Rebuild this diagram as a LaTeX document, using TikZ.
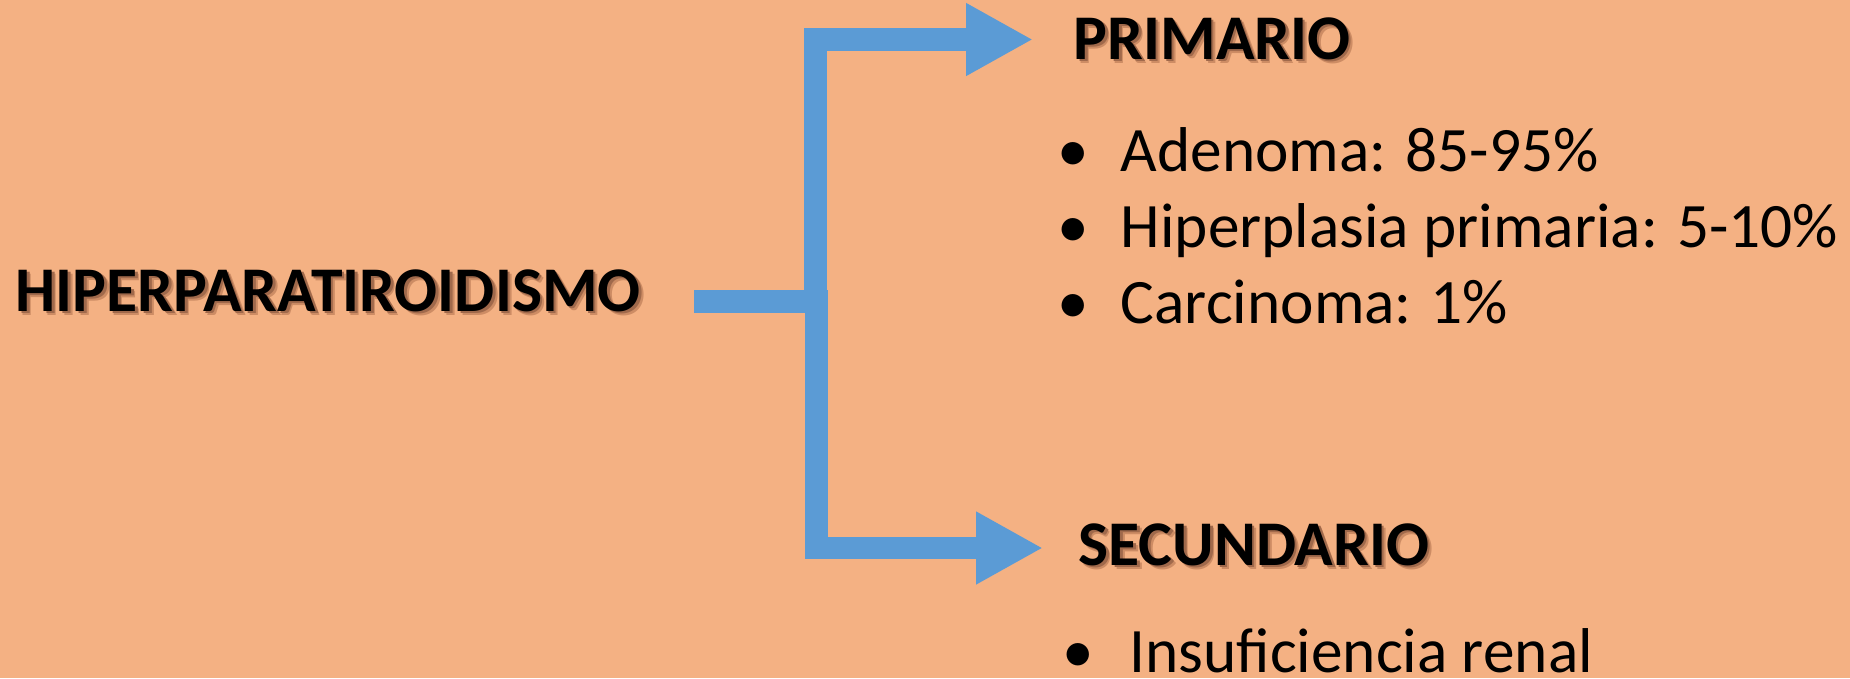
\documentclass[tikz,border=0pt]{standalone}
\usepackage{fontspec}
\setmainfont{Carlito}
\usetikzlibrary{arrows.meta}
\definecolor{slidebg}{HTML}{F4B183}
\definecolor{arrowblue}{HTML}{5B9BD5}
\definecolor{shadowlight}{RGB}{205,140,100}
\definecolor{shadowdark}{RGB}{160,105,75}
\newcommand{\shadowed}[1]{%
    \makebox[0pt][l]{\hspace{1.2pt}\raisebox{-1.2pt}{\color{shadowlight}#1}}%
    \makebox[0pt][l]{\hspace{0.7pt}\raisebox{-0.7pt}{\color{shadowdark}#1}}#1}

\begin{document}
\begin{tikzpicture}[x=0.01cm,y=-0.01cm]
    \tikzstyle{title node}=[inner sep=0,anchor=base west,font=\bfseries\fontsize{18.1}{22}\selectfont]
    \tikzstyle{item node}=[inner sep=0,anchor=base west,font=\fontsize{18}{21.7}\selectfont]
    \tikzstyle{fork line}=[draw=arrowblue,line width=6.5pt]
    \tikzstyle{fork arrow}=[fork line,line join=miter,-{Triangle[length=19pt,width=19.3pt]}]

    % slide background
    \fill[slidebg] (0,0) rectangle (1850,678);
    \useasboundingbox (0,0) rectangle (1850,678);

    % headings
    \node(hiper)[title node] at (15,311) {\shadowed{HIPERPARATIROIDISMO}};
    \node(prim)[title node] at (1073,59) {\shadowed{PRIMARIO}};
    \node(sec)[title node] at (1078,565) {\shadowed{SECUNDARIO}};

    % causes
    \node(primlist)[item node] at (1057,171) {
        \begin{tabular}[t]{@{}l@{\hspace{9pt}}l@{}}
            • & Adenoma: 85-95\% \\
            • & Hiperplasia primaria: 5-10\% \\
            • & Carcinoma: 1\%
        \end{tabular}
    };
    \node(seclist)[item node] at (1062,672) {
        \begin{tabular}[t]{@{}l@{\hspace{10pt}}l@{}}
            • & Insuficiencia renal
        \end{tabular}
    };

    % fork
    \coordinate (stubL) at (694,301.5);
    \coordinate (stubR) at (828,301.5);
    \coordinate (forkT) at (815.5,290);
    \coordinate (cornT) at (815.5,39.5);
    \coordinate (tipT) at (1033,39.5);
    \coordinate (forkB) at (816.5,290);
    \coordinate (cornB) at (816.5,548);
    \coordinate (tipB) at (1043,548);
    \draw[fork line] (stubL) -- (stubR);
    \draw[fork arrow] (forkT) -- (cornT) -- (tipT);
    \draw[fork arrow] (forkB) -- (cornB) -- (tipB);
\end{tikzpicture}
\end{document}
